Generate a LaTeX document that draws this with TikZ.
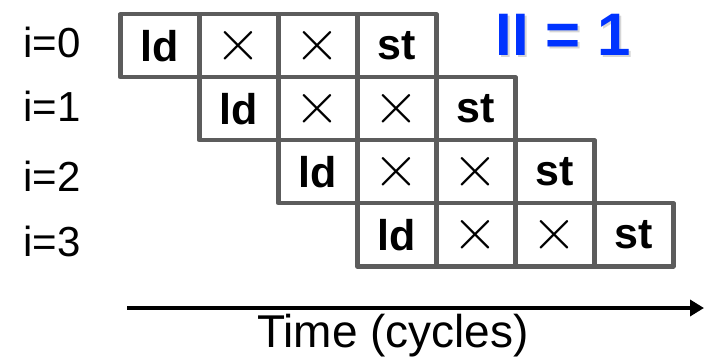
\documentclass[tikz,border=0pt]{standalone}
\usepackage{fontspec}
\setmainfont{Liberation Sans}
\usetikzlibrary{arrows.meta}
\definecolor{cellgray}{RGB}{92,92,92}
\definecolor{iiblue}{RGB}{0,51,255}
\begin{document}
\begin{tikzpicture}[x=1pt,y=-1pt,
  cellbox/.style={draw=cellgray,line width=4.5pt,line join=round,minimum width=79pt,minimum height=63pt,inner sep=0pt,anchor=north west},
  opname/.style={font=\fontsize{43}{46}\selectfont\bfseries},
  mulname/.style={font=\normalsize},
  iterlabel/.style={font=\fontsize{42}{46}\selectfont,anchor=center},
  timearrow/.style={line width=4.5pt,-{Triangle[length=14pt,width=16pt]}}]
\useasboundingbox (0,0) rectangle (704,358);
% iteration labels
\node[iterlabel] (i0) at (52,42) {i=0};
\node[iterlabel] (i1) at (52,106) {i=1};
\node[iterlabel] (i2) at (52,176) {i=2};
\node[iterlabel] (i3) at (52,241) {i=3};
% pipelined iterations: each row shifted by one cycle
\foreach \r in {0,1,2,3}{
  \pgfmathsetmacro{\xs}{118+79*\r}
  \pgfmathsetmacro{\ys}{12+63*\r}
  \node[cellbox,opname] (ld\r) at (\xs,\ys) {ld};
  \node[cellbox,mulname] (ma\r) at (\xs+79,\ys) {\scalebox{5.9}{$\times$}};
  \node[cellbox,mulname] (mb\r) at (\xs+158,\ys) {\scalebox{5.9}{$\times$}};
  \node[cellbox,opname] (st\r) at (\xs+237,\ys) {st};
}
% initiation interval
\node[font=\fontsize{60}{60}\selectfont\bfseries,text=black!40,opacity=0.4] (iish) at (565,37) {II = 1};
\node[font=\fontsize{60}{60}\selectfont\bfseries,text=iiblue] (ii) at (563,35) {II = 1};
% time axis
\coordinate (tstart) at (127,308);
\coordinate (tend) at (704,308);
\draw[timearrow] (tstart) -- (tend);
\node[font=\fontsize{46}{48}\selectfont,anchor=base] (tlabel) at (393,347) {Time (cycles)};
\end{tikzpicture}
\end{document}
